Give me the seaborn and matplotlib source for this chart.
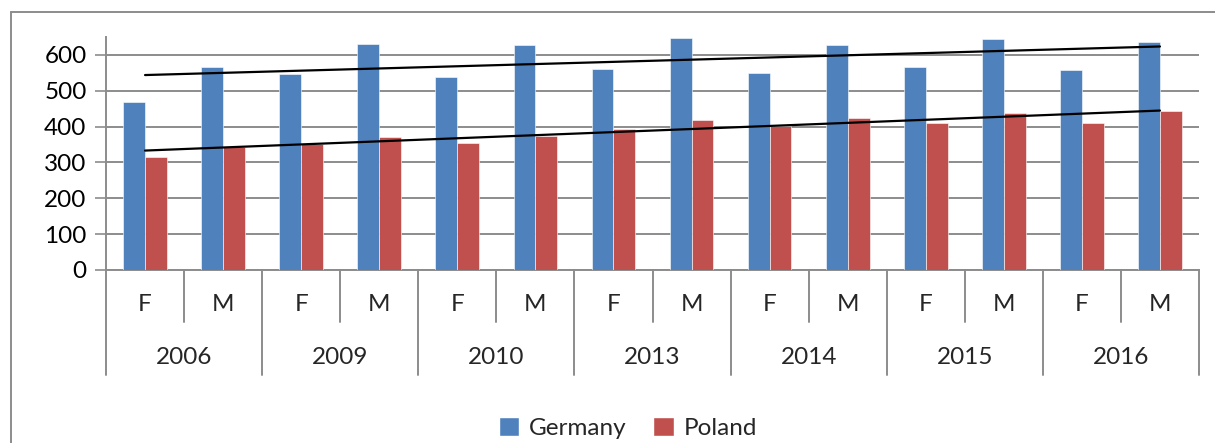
import numpy as np
import pandas as pd
import matplotlib.pyplot as plt
from matplotlib.lines import Line2D
from matplotlib.patches import Patch
import seaborn as sns

sns.set_theme(style='white')
plt.rcParams['font.family'] = ['Lato', 'DejaVu Sans']

years = ['2006', '2009', '2010', '2013', '2014', '2015', '2016']
sexes = ['F', 'M']
germany = [470, 567, 547, 630, 539, 629, 561, 647, 549, 627, 566, 645, 559, 636]
poland = [314, 344, 351, 372, 353, 375, 393, 419, 402, 423, 409, 437, 410, 444]
series = ['Germany', 'Poland']
colors = {'Germany': '#4F81BD', 'Poland': '#C0504D'}

cats = [f'{y} {s}' for y in years for s in sexes]
df = pd.DataFrame({
    'cat': cats * 2,
    'value': germany + poland,
    'country': ['Germany'] * len(cats) + ['Poland'] * len(cats),
})

FS = 17.5

fig = plt.figure(figsize=(12.15, 4.43), dpi=100)
ax = fig.add_axes([106 / 1215, 1 - 270 / 443, (1199 - 106) / 1215, (270 - 37) / 443])

sns.barplot(data=df, x='cat', y='value', hue='country', order=cats,
            palette=colors, saturation=1, width=0.56, gap=0, ax=ax, legend=False,
            edgecolor='white', linewidth=0.4, zorder=3)

# linear trendlines
xs = np.arange(len(cats))
for vals in (germany, poland):
    sns.regplot(x=xs, y=vals, scatter=False, ci=None, ax=ax, truncate=True,
                line_kws={'color': 'black', 'lw': 1.6, 'zorder': 4})

ax.set_xlim(-0.5, len(cats) - 0.5)
ax.set_ylim(0, 650)
ax.set_yticks(range(0, 700, 100))
ax.set_xlabel('')
ax.set_ylabel('')
ax.set_xticks([])
ax.yaxis.grid(True, color='#8c8c8c', lw=1.4, zorder=0)
ax.tick_params(axis='y', left=True, length=8, width=1.2, color='#8c8c8c',
               labelsize=FS, pad=6, labelcolor='black')
for s in ['top', 'right']:
    ax.spines[s].set_visible(False)
for s in ['left', 'bottom']:
    ax.spines[s].set_color('#8c8c8c')
    ax.spines[s].set_linewidth(1.4)

# two-level category axis
trans = ax.get_xaxis_transform()
for i in range(len(cats) + 1):
    b = i - 0.5
    low = -0.45 if i % 2 == 0 else -0.225
    ax.add_line(Line2D([b, b], [0, low], transform=trans, color='#8c8c8c',
                       lw=1.4, clip_on=False))
for i, c in enumerate(cats):
    ax.text(i, -0.15, c.split()[1], transform=trans, ha='center', va='center',
            fontsize=FS)
for j, y in enumerate(years):
    ax.text(2 * j + 0.5, -0.375, y, transform=trans, ha='center', va='center',
            fontsize=FS)

# outer chart border
fig.add_artist(Line2D([11 / 1215, 11 / 1215], [0, 1 - 12 / 443], color='#8c8c8c', lw=1.4))
fig.add_artist(Line2D([11 / 1215, 1], [1 - 12 / 443, 1 - 12 / 443], color='#8c8c8c', lw=1.4))

handles = [Patch(facecolor=colors[s], label=s) for s in series]
fig.legend(handles=handles, loc='center', bbox_to_anchor=(628 / 1215, 1 - 428 / 443),
           ncol=2, frameon=False, fontsize=FS, handlelength=0.85, handleheight=0.85,
           handletextpad=0.4, columnspacing=1.1)

fig.savefig('out.png', dpi=100)
